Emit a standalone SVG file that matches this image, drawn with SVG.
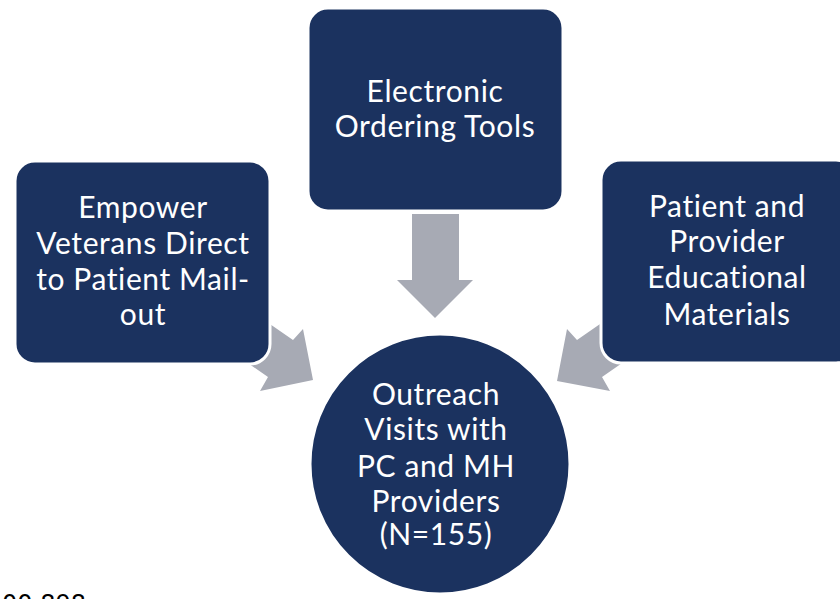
<svg xmlns="http://www.w3.org/2000/svg" width="840" height="599" viewBox="0 0 840 599">
<style>
.box{fill:#1B325F;stroke:#FFFFFF;stroke-width:3}
.arrow{fill:#A7AAB4;stroke:none}
.lbl{font-family:Lato,"Open Sans","Liberation Sans",sans-serif;font-size:30px;letter-spacing:0.6px;fill:#FFFFFF;text-anchor:middle}
.foot{font-family:"DejaVu Sans",sans-serif;font-size:24px;fill:#000000}
</style>
<rect width="840" height="599" fill="#FFFFFF"/>
<g id="connectors">
<path class="arrow" d="M412,214 L459,214 L459,280 L473,280 L435,318 L397,280 L412,280 Z"/>
<path class="arrow" d="M244,306 L293,340 L303,329 L313,380 L260,391 L268,377 L219,343 Z"/>
<path class="arrow" d="M626,306 L577,340 L567,329 L557,381 L610,391 L602,377 L651,343 Z"/>
</g>
<g id="node-left">
<rect class="box" x="15" y="161" width="255" height="203" rx="20"/>
<text class="lbl" x="143" y="218">Empower</text>
<text class="lbl" x="143" y="254">Veterans Direct</text>
<text class="lbl" x="143" y="290">to Patient Mail-</text>
<text class="lbl" x="143" y="325">out</text>
</g>
<g id="node-top">
<rect class="box" x="308" y="8" width="255" height="203" rx="20"/>
<text class="lbl" x="435" y="102">Electronic</text>
<text class="lbl" x="435" y="137">Ordering Tools</text>
</g>
<g id="node-right">
<rect class="box" x="601" y="160" width="255" height="203" rx="20"/>
<text class="lbl" x="727" y="217">Patient and</text>
<text class="lbl" x="727" y="252">Provider</text>
<text class="lbl" x="727" y="288">Educational</text>
<text class="lbl" x="727" y="325">Materials</text>
</g>
<g id="node-center">
<circle class="box" cx="440" cy="464" r="130"/>
<text class="lbl" x="436" y="405">Outreach</text>
<text class="lbl" x="436" y="440">Visits with</text>
<text class="lbl" x="436" y="477">PC and MH</text>
<text class="lbl" x="436" y="512">Providers</text>
<text class="lbl" x="436" y="545">(N=155)</text>
</g>
<text class="foot" x="2" y="612">00 898</text>
</svg>
